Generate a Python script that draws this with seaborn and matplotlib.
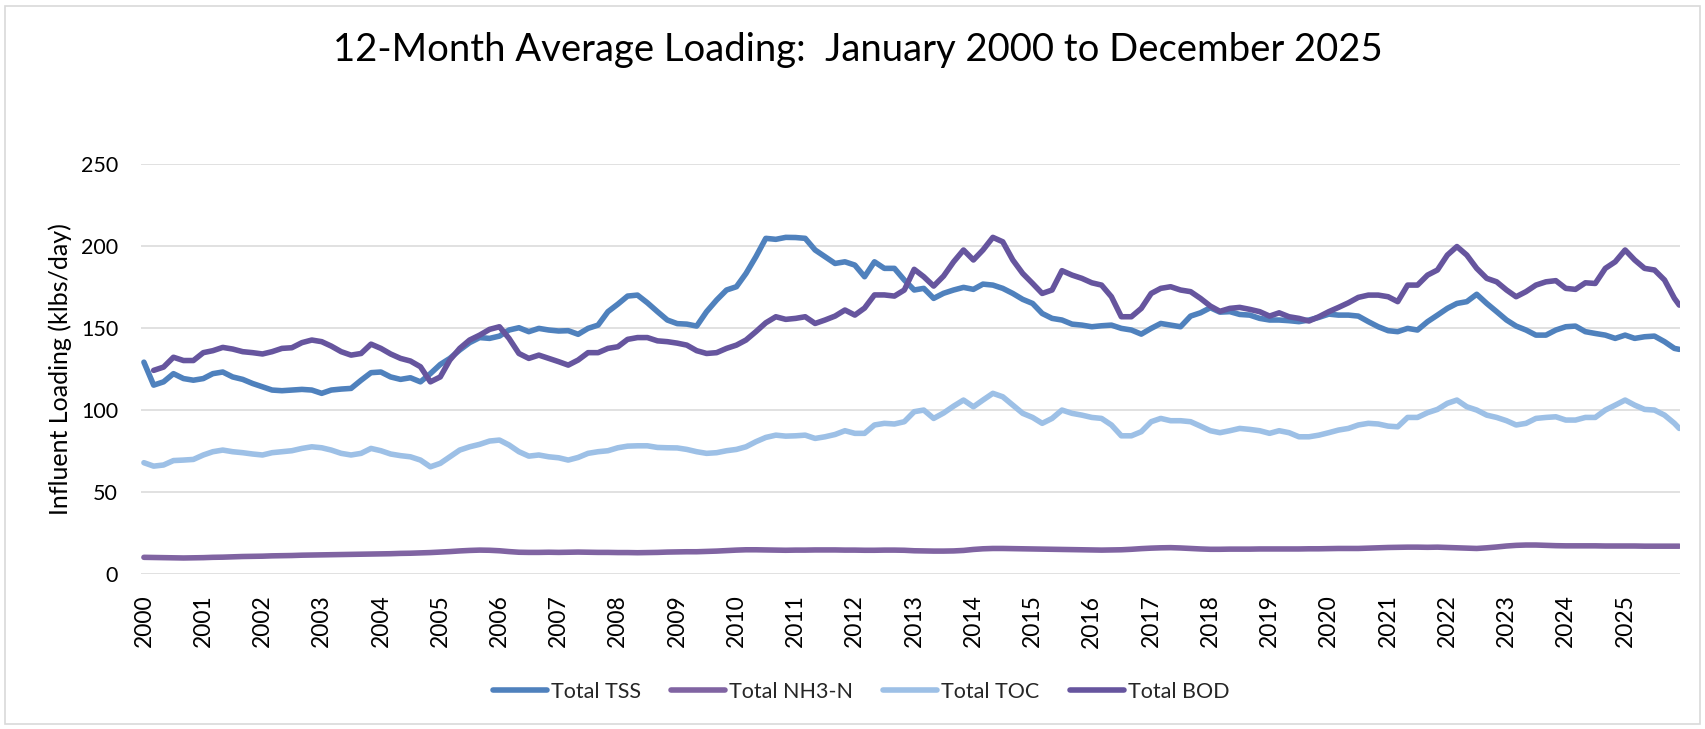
import numpy as np
import pandas as pd
import matplotlib
matplotlib.use("Agg")
import matplotlib.pyplot as plt
import seaborn as sns
from matplotlib.patches import Rectangle

# 12-month running averages, every second month (Jan, Mar, May, Jul, Sep, Nov)
# plus the final December 2025 value
tss = [
    129, 115, 117, 122, 119, 118,
    119, 122, 123, 120, 118.5, 116,
    114, 112, 111.6, 112, 112.4, 112,
    110, 112, 112.6, 113, 118, 122.6,
    123, 120, 118.5, 119.5, 117, 122,
    127.6, 131.3, 136.4, 140.9, 144, 143.5,
    144.9, 148.6, 150, 147.6, 149.6, 148.6,
    148, 148.2, 146, 149.6, 151.6, 159.8,
    164.4, 169.3, 169.9, 165.2, 159.8, 154.7,
    152.5, 152.2, 151, 159.8, 166.9, 173,
    175, 183.1, 193.3, 204.5, 203.9, 205.1,
    205, 204.5, 197.4, 193.3, 189.2, 190.2,
    188.2, 181.1, 190.2, 186.2, 186.2, 179.1,
    173, 174, 167.9, 171, 173, 174.6,
    173.4, 176.6, 176, 174, 170.9, 167.3,
    164.8, 158.7, 155.7, 154.7, 152.2, 151.6,
    150.6, 151.2, 151.6, 149.6, 148.6, 146.1,
    149.6, 152.6, 151.6, 150.6, 157.1, 159.1,
    162.2, 159.5, 159.8, 158.1, 157.7, 155.7,
    154.7, 154.7, 154.3, 153.7, 154.7, 156.3,
    158.3, 157.7, 157.7, 157.1, 153.7, 150.6,
    148.2, 147.6, 149.6, 148.6, 153.7, 157.7,
    161.8, 164.8, 165.9, 170.4, 164.8, 159.8,
    154.7, 151, 148.6, 145.5, 145.5, 148.6,
    150.6, 151, 147.6, 146.5, 145.5, 143.5,
    145.5, 143.5, 144.5, 144.9, 141.5, 137.4,
    136.8,
]

nh3 = [
    10.0, 9.9, 9.8, 9.7, 9.6, 9.7,
    9.8, 10.0, 10.1, 10.3, 10.5, 10.6,
    10.7, 10.9, 11.0, 11.1, 11.3, 11.4,
    11.5, 11.6, 11.7, 11.8, 11.9, 12.0,
    12.1, 12.2, 12.4, 12.5, 12.7, 12.9,
    13.2, 13.5, 13.9, 14.2, 14.4, 14.3,
    14.0, 13.5, 13.1, 13.0, 13.0, 13.1,
    13.0, 13.1, 13.2, 13.1, 13.0, 13.0,
    12.9, 12.9, 12.8, 12.9, 13.0, 13.2,
    13.3, 13.4, 13.4, 13.6, 13.8, 14.1,
    14.4, 14.6, 14.6, 14.5, 14.4, 14.3,
    14.4, 14.4, 14.5, 14.5, 14.5, 14.4,
    14.4, 14.3, 14.3, 14.4, 14.4, 14.3,
    14.0, 13.9, 13.8, 13.8, 13.9, 14.2,
    14.8, 15.2, 15.4, 15.4, 15.3, 15.2,
    15.1, 15.0, 14.9, 14.8, 14.7, 14.6,
    14.5, 14.4, 14.5, 14.6, 14.9, 15.3,
    15.6, 15.8, 15.9, 15.7, 15.4, 15.1,
    14.9, 14.9, 15.0, 15.0, 15.0, 15.1,
    15.1, 15.1, 15.1, 15.1, 15.2, 15.2,
    15.3, 15.4, 15.4, 15.4, 15.6, 15.8,
    16.0, 16.1, 16.2, 16.2, 16.1, 16.2,
    16.0, 15.8, 15.6, 15.4, 15.8, 16.3,
    16.9, 17.3, 17.5, 17.5, 17.3, 17.1,
    17.0, 17.0, 17.0, 17.0, 16.9, 16.9,
    16.9, 16.9, 16.8, 16.8, 16.8, 16.8,
    16.8,
]

toc = [
    67.7, 65.6, 66.3, 69, 69.3, 69.7,
    72.4, 74.4, 75.4, 74.4, 73.8, 73,
    72.4, 73.8, 74.4, 75, 76.4, 77.4,
    76.8, 75.4, 73.4, 72.4, 73.4, 76.4,
    75, 73, 72, 71.3, 69.3, 65.2,
    67.3, 71.3, 75.4, 77.4, 78.9, 80.9,
    81.5, 78.5, 74.4, 71.7, 72.4, 71.3,
    70.7, 69.3, 70.9, 73.4, 74.4, 75,
    76.8, 77.8, 78, 78, 77, 76.8,
    76.7, 75.8, 74.4, 73.4, 73.8, 75,
    75.8, 77.4, 80.5, 83.1, 84.5, 83.9,
    84.1, 84.5, 82.5, 83.5, 84.9, 87.2,
    85.6, 85.6, 90.7, 91.7, 91.3, 92.7,
    98.8, 99.8, 94.7, 98, 102.2, 105.9,
    101.8, 105.9, 110, 107.9, 102.8, 97.8,
    95.3, 91.7, 94.7, 99.8, 97.8, 96.7,
    95.3, 94.7, 90.7, 84.1, 84.1, 86.6,
    92.7, 94.7, 93.3, 93.3, 92.7, 90,
    87.2, 86, 87.2, 88.6, 88, 87.2,
    85.6, 87.2, 86, 83.5, 83.5, 84.5,
    86, 87.6, 88.6, 90.7, 91.7, 91.3,
    90, 89.6, 95.3, 95.3, 98.2, 100.2,
    103.9, 105.9, 101.8, 99.8, 96.7, 95.3,
    93.3, 90.7, 91.7, 94.7, 95.3, 95.7,
    93.7, 93.7, 95.3, 95.3, 99.8, 102.8,
    105.9, 102.8, 100.2, 99.8, 96.7, 91.7,
    88.6,
]

bod = [
    np.nan, 124, 126, 132, 130, 130,
    134.8, 136, 138, 137, 135.4, 134.8,
    134, 135.4, 137.4, 137.8, 140.9, 142.5,
    141.5, 138.8, 135.4, 133.3, 134.3, 140,
    137.4, 134, 131.3, 129.7, 126.2, 117,
    120, 130.3, 137.4, 142.5, 145.5, 149,
    150.6, 143.5, 134.3, 131.3, 133.3, 131.3,
    129.3, 127.2, 130.3, 134.8, 134.8, 137.4,
    138.4, 142.9, 144, 144, 142, 141.5,
    140.6, 139.4, 136, 134.3, 134.8, 137.4,
    139.4, 142.5, 147.6, 153, 156.7, 155.1,
    155.7, 156.7, 152.6, 154.7, 157.1, 160.8,
    157.7, 162, 170, 170, 169.3, 173,
    185.6, 181.1, 175.4, 181.5, 190.2, 197.4,
    191.3, 197.4, 205.1, 202.4, 191.3, 183.1,
    177, 170.9, 173, 184.8, 182.1, 180.1,
    177.4, 176, 168.9, 156.7, 156.7, 161.8,
    170.9, 174, 175, 173, 172, 167.9,
    163.2, 160, 161.8, 162.4, 161.2, 159.8,
    157.1, 159.1, 156.7, 155.7, 154.1, 156.7,
    159.8, 162.4, 165.2, 168.5, 169.9, 169.9,
    168.9, 165.9, 176, 176, 182.1, 185.2,
    194.3, 199.5, 194.3, 186.2, 180.1, 178,
    173, 168.9, 172, 176, 178, 178.7,
    174, 173.4, 177.4, 177, 186.2, 190.2,
    197.4, 191.3, 186.2, 185.2, 179.1, 167.9,
    163.8,
]

series_names = ["Total TSS", "Total NH3-N", "Total TOC", "Total BOD"]
colors = ["#4F81BD", "#8064A2", "#9DC0E6", "#66559E"]
years = list(range(2000, 2026))

dates = list(pd.date_range("2000-01-01", "2025-11-01", freq="2MS")) + [pd.Timestamp("2025-12-01")]

frames = []
for name, vals in zip(series_names, [tss, nh3, toc, bod]):
    frames.append(pd.DataFrame({"Date": dates, "Loading": vals, "Series": name}))
df = pd.concat(frames, ignore_index=True)

sns.set_theme(style="white")
plt.rcParams["font.family"] = ["Lato", "DejaVu Sans"]

fig = plt.figure(figsize=(17.05, 7.29), dpi=100)
ax = fig.add_axes([0.0827, 0.213, 0.9026, 0.5624])

sns.lineplot(
    data=df, x="Date", y="Loading", hue="Series", hue_order=series_names,
    palette=colors, linewidth=4, ax=ax, legend=False,
    solid_joinstyle="round", solid_capstyle="round",
)

ax.set_ylim(0, 250)
ax.set_yticks(range(0, 251, 50))
ax.set_xlim(pd.Timestamp("2000-01-01") - pd.Timedelta(days=18),
            pd.Timestamp("2025-12-01") + pd.Timedelta(days=4))
ax.set_xticks([pd.Timestamp(f"{y}-01-01") for y in years])
ax.set_xticklabels([str(y) for y in years])

ax.grid(axis="y", color="#D9D9D9", linewidth=1.1)
ax.grid(axis="x", visible=False)
for s in ax.spines.values():
    s.set_visible(False)

ax.tick_params(axis="x", length=0, pad=15, labelsize=16.5, rotation=90, labelcolor="black")
ax.tick_params(axis="y", length=0, pad=16.5, labelsize=15.5, labelcolor="black")

ax.set_xlabel("")
ax.set_ylabel("Influent Loading (klbs/day)", fontsize=18, color="black")
ax.yaxis.set_label_coords(-0.0448, 0.5)

fig.text(0.503, 0.931, "12-Month Average Loading:  January 2000 to December 2025",
         ha="center", va="center", fontsize=27.5, color="black")

handles = [plt.Line2D([], [], color=c, linewidth=4, solid_capstyle="round") for c in colors]
fig.legend(handles, series_names, loc="center", bbox_to_anchor=(0.505, 0.051), ncol=4,
           frameon=False, fontsize=15.5, handlelength=2.5, handletextpad=0.2, columnspacing=1.4)

fig.add_artist(Rectangle((0.003, 0.007), 0.994, 0.985, transform=fig.transFigure,
                         fill=False, edgecolor="#D9D9D9", linewidth=1.2))

fig.savefig("out.png", dpi=100)
